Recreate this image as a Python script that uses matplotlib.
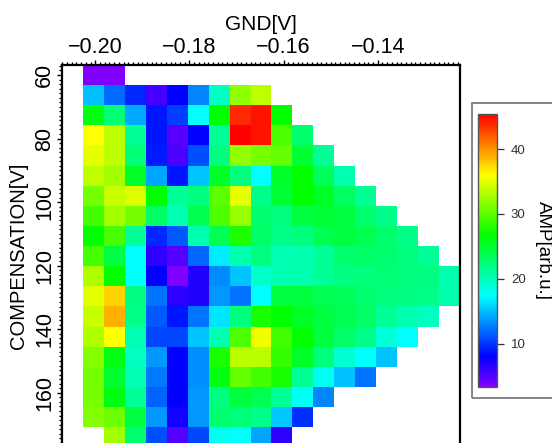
import numpy as np
import matplotlib
matplotlib.use("Agg")
import matplotlib.pyplot as plt
import matplotlib.colors as mcolors
from matplotlib.ticker import MultipleLocator, AutoMinorLocator, FuncFormatter
from matplotlib.patches import Rectangle

plt.rcParams['font.family'] = ['Liberation Sans', 'DejaVu Sans']

# GND voltage (column centres) and compensation voltage (row centres)
gnd = [-0.2004, -0.19595, -0.1915, -0.18705, -0.1826, -0.17815, -0.1737, -0.16925,
       -0.1648, -0.16035, -0.1559, -0.15145, -0.147, -0.14255, -0.1381, -0.13365,
       -0.1292, -0.12475]
comp = [60.0, 66.3, 72.7, 79.0, 85.3, 91.7, 98.0, 104.3, 110.6, 117.0,
        123.3, 129.6, 136.0, 142.3, 148.6, 155.0, 161.3, 167.6, 173.9]

nan = np.nan
# amplitude per row (arb. units), left to right
r00 = [3.3, 3.3]
r01 = [15, 12, 9.5, 5.6, 8, 13, 19.7, 32, 33.7]
r02 = [26, 22.5, 14.2, 8.8, 10.3, 17.3, 26.7, 43.8, 44.6, 26.7]
r03 = [36, 33.7, 21.2, 8.8, 4.9, 8, 21.2, 45.4, 44.6, 29.6, 22.6]
r04 = [35, 33.7, 22.5, 9, 5.3, 11, 22, 32, 31, 30.4, 24.8, 21.2]
r05 = [33.7, 32.6, 25.3, 14, 8.8, 15.3, 25.3, 22, 17.3, 25.3, 26.7, 23.5, 20.4]
r06 = [31, 34, 34.8, 26.7, 21.2, 22, 30, 35, 21.7, 24.8, 26.7, 25.3, 23.1, 21.2]
r07 = [29, 32.6, 31, 23, 20.1, 23.8, 29.6, 32.2, 22.6, 22.2, 24.5, 24.8, 24.5, 22.6, 21.7]
r08 = [26.7, 29.2, 21.2, 9.5, 11.3, 20.4, 23.8, 27.8, 23, 21.7, 22.2, 23.8, 24.5, 23.8,
       22.6, 21.7]
r09 = [29.2, 24.2, 17.3, 6.4, 5, 11.7, 16.7, 20.4, 22, 20.1, 20.4, 21.2, 22.6, 23, 22.6,
       22.2, 21.2]
r10 = [33, 26.7, 17.3, 8, 3.3, 6.9, 13.1, 15.3, 19.3, 20.1, 20.4, 21.2, 22, 22.2, 22.5,
       22.2, 22, 20.4]
r11 = [35, 37.6, 22, 12.2, 6.4, 6.9, 13.6, 12.2, 17.3, 24.5, 24.5, 23.8, 23.5, 22.6, 22.2,
       22, 21.7, 20.4]
r12 = [34, 38.9, 21.7, 11.3, 8.8, 12.2, 16.4, 22.2, 27.5, 26.7, 25.3, 24.5, 23.8, 23,
       21.2, 20.4, 19.7]
r13 = [33, 36, 20.1, 10.6, 10.6, 15.3, 20.4, 29.6, 35.5, 29, 26.7, 24.5, 23, 21.7, 18.6, 17.3]
r14 = [31.5, 26, 19.7, 13.6, 8, 13.2, 27.5, 33.4, 33.4, 28.5, 25.3, 22.2, 19, 17.3, 15.3]
r15 = [31, 25, 20.1, 12.4, 8, 13.2, 26, 30.4, 29, 27.5, 21.2, 17.8, 15, 12.2]
r16 = [31, 26.3, 21.2, 11.6, 8, 13.6, 22, 24.5, 23.8, 21.2, 17.7, 13]
r17 = [31.5, 30.7, 24.2, 13.6, 7.4, 13.6, 22.6, 22.3, 21.7, 15.4, 9.8]
r18 = [nan, 32.6, 22.6, 11, 5, 10.6, 17.8, 17.3, 14.1, 6.4]

rows = [r00, r01, r02, r03, r04, r05, r06, r07, r08, r09,
        r10, r11, r12, r13, r14, r15, r16, r17, r18]
amp = np.full((len(comp), len(gnd)), nan)
for i, r in enumerate(rows):
    amp[i, :len(r)] = r
amp = np.ma.masked_invalid(amp)

vmin, vmax = 3.3, 45.4

# rainbow: hue 270 (purple) -> 0 (red)
h = np.linspace(270, 0, 256) / 360.0
cmap = mcolors.ListedColormap(mcolors.hsv_to_rgb(np.column_stack([h, np.ones(256), np.ones(256)])))

W, H = 552, 443
fig = plt.figure(figsize=(W / 100, H / 100), dpi=100)


def px(l, t, r, b):
    return [l / W, 1 - b / H, (r - l) / W, (b - t) / H]


ax = fig.add_axes(px(62, 65, 460, 447))
mesh = ax.pcolormesh(gnd, comp, amp, cmap=cmap, vmin=vmin, vmax=vmax, shading='nearest')

dx = gnd[1] - gnd[0]
dy = comp[1] - comp[0]
ax.set_xlim(gnd[0] - 1.5 * dx, gnd[-1] + 0.5 * dx)
ax.set_ylim(comp[-1] + dy / 2, comp[0] - dy / 2)

ax.xaxis.tick_top()
ax.xaxis.set_label_position('top')
ax.xaxis.set_major_locator(MultipleLocator(0.02))
ax.xaxis.set_minor_locator(AutoMinorLocator(20))
ax.xaxis.set_major_formatter(FuncFormatter(lambda v, p: f"{v:.2f}".replace('-', '\u2212')))
ax.yaxis.set_major_locator(MultipleLocator(20))
ax.yaxis.set_minor_locator(AutoMinorLocator(14))

ax.tick_params(which='both', direction='out', colors='black', labelsize=15.5, width=1.0)
ax.tick_params(which='major', length=3.5, pad=1.5)
ax.tick_params(which='minor', length=2.0)
plt.setp(ax.get_yticklabels(), rotation=90, va='center')

for s in ax.spines.values():
    s.set_linewidth(1.6)

ax.set_xlabel('GND[V]', fontsize=15, labelpad=5)
ax.set_ylabel('COMPENSATION[V]', fontsize=14.5, labelpad=4)

# colorbar in a framed box
fig.patches.append(Rectangle((472 / W, 1 - 398 / H), 100 / W, 295 / H, transform=fig.transFigure,
                             fill=False, edgecolor='#7a7a7a', linewidth=1.3))
cax = fig.add_axes(px(478, 114, 497, 387))
cb = fig.colorbar(mesh, cax=cax, ticks=[10, 20, 30, 40])
cb.outline.set_edgecolor('#555555')
cb.outline.set_linewidth(1.0)
cax.tick_params(direction='out', length=5, width=0.9, pad=5, labelsize=9.5,
                colors='#333333')
fig.text(543 / W, 1 - 250 / H, 'AMP[arb.u.]', rotation=-90, ha='center', va='center',
         fontsize=13.5)

fig.savefig('out.png', dpi=100)
